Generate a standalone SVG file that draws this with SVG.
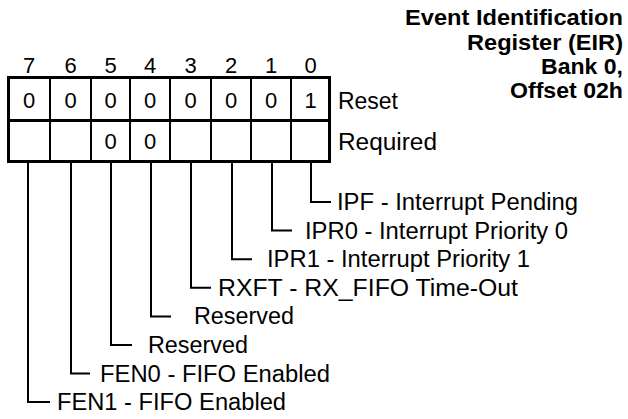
<svg xmlns="http://www.w3.org/2000/svg" width="628" height="419" viewBox="0 0 628 419">
<style>
text{font-family:"Liberation Sans",Arial,sans-serif;fill:#000}
.t{font-size:22px;font-weight:bold}
.d{font-size:22px;text-anchor:middle}
.l{font-size:23px}
.box{fill:none;stroke:#000;stroke-width:3}
.div{stroke:#000;stroke-width:2}
.c{fill:none;stroke:#000;stroke-width:2}
</style>
<rect width="628" height="419" fill="#fff"/>
<g id="title">
<text class="t" x="405" y="25" textLength="218" lengthAdjust="spacingAndGlyphs">Event Identification</text>
<text class="t" x="467" y="49.5" textLength="156" lengthAdjust="spacingAndGlyphs">Register (EIR)</text>
<text class="t" x="541" y="74" textLength="82" lengthAdjust="spacingAndGlyphs">Bank 0,</text>
<text class="t" x="510" y="98" textLength="113" lengthAdjust="spacingAndGlyphs">Offset 02h</text>
</g>
<g id="register">
<g id="bit-numbers">
<text class="d" x="29" y="73">7</text>
<text class="d" x="70.5" y="73">6</text>
<text class="d" x="110.5" y="73">5</text>
<text class="d" x="150" y="73">4</text>
<text class="d" x="190.5" y="73">3</text>
<text class="d" x="231" y="73">2</text>
<text class="d" x="271" y="73">1</text>
<text class="d" x="310.5" y="73">0</text>
</g>
<rect class="box" x="8.5" y="77.5" width="321" height="84"/>
<line class="box" x1="8.5" y1="120.5" x2="329.5" y2="120.5"/>
<g class="div">
<line x1="50" y1="77" x2="50" y2="162"/>
<line x1="91" y1="77" x2="91" y2="162"/>
<line x1="130" y1="77" x2="130" y2="162"/>
<line x1="170" y1="77" x2="170" y2="162"/>
<line x1="211" y1="77" x2="211" y2="162"/>
<line x1="251" y1="77" x2="251" y2="162"/>
<line x1="291" y1="77" x2="291" y2="162"/>
</g>
<g id="reset-row">
<text class="d" x="29" y="108">0</text>
<text class="d" x="70.5" y="108">0</text>
<text class="d" x="110.5" y="108">0</text>
<text class="d" x="150" y="108">0</text>
<text class="d" x="190.5" y="108">0</text>
<text class="d" x="231" y="108">0</text>
<text class="d" x="271" y="108">0</text>
<text class="d" x="310.5" y="108">1</text>
<text class="l" x="338" y="109" textLength="60" lengthAdjust="spacingAndGlyphs">Reset</text>
</g>
<g id="required-row">
<text class="d" x="110.5" y="149">0</text>
<text class="d" x="150" y="149">0</text>
<text class="l" x="338" y="150" textLength="99" lengthAdjust="spacingAndGlyphs">Required</text>
</g>
</g>
<g id="connectors">
<path class="c" d="M311 162V202H331"/>
<path class="c" d="M272 162V230.6H292"/>
<path class="c" d="M232 162V259.2H252"/>
<path class="c" d="M191 162V287.8H211"/>
<path class="c" d="M151 162V316.4H171"/>
<path class="c" d="M111 162V345H132"/>
<path class="c" d="M71 162V373.6H90"/>
<path class="c" d="M28 162V402H50"/>
</g>
<g id="bit0"><text class="l" x="337" y="210" textLength="241" lengthAdjust="spacingAndGlyphs">IPF - Interrupt Pending</text></g>
<g id="bit1"><text class="l" x="305" y="238.6" textLength="263" lengthAdjust="spacingAndGlyphs">IPR0 - Interrupt Priority 0</text></g>
<g id="bit2"><text class="l" x="267" y="267.2" textLength="263" lengthAdjust="spacingAndGlyphs">IPR1 - Interrupt Priority 1</text></g>
<g id="bit3"><text class="l" x="218" y="295.8" textLength="300" lengthAdjust="spacingAndGlyphs">RXFT - RX_FIFO Time-Out</text></g>
<g id="bit4"><text class="l" x="194" y="324.4" textLength="100" lengthAdjust="spacingAndGlyphs">Reserved</text></g>
<g id="bit5"><text class="l" x="148" y="353" textLength="100" lengthAdjust="spacingAndGlyphs">Reserved</text></g>
<g id="bit6"><text class="l" x="100" y="381.6" textLength="230" lengthAdjust="spacingAndGlyphs">FEN0 - FIFO Enabled</text></g>
<g id="bit7"><text class="l" x="57" y="410" textLength="229" lengthAdjust="spacingAndGlyphs">FEN1 - FIFO Enabled</text></g>
</svg>
